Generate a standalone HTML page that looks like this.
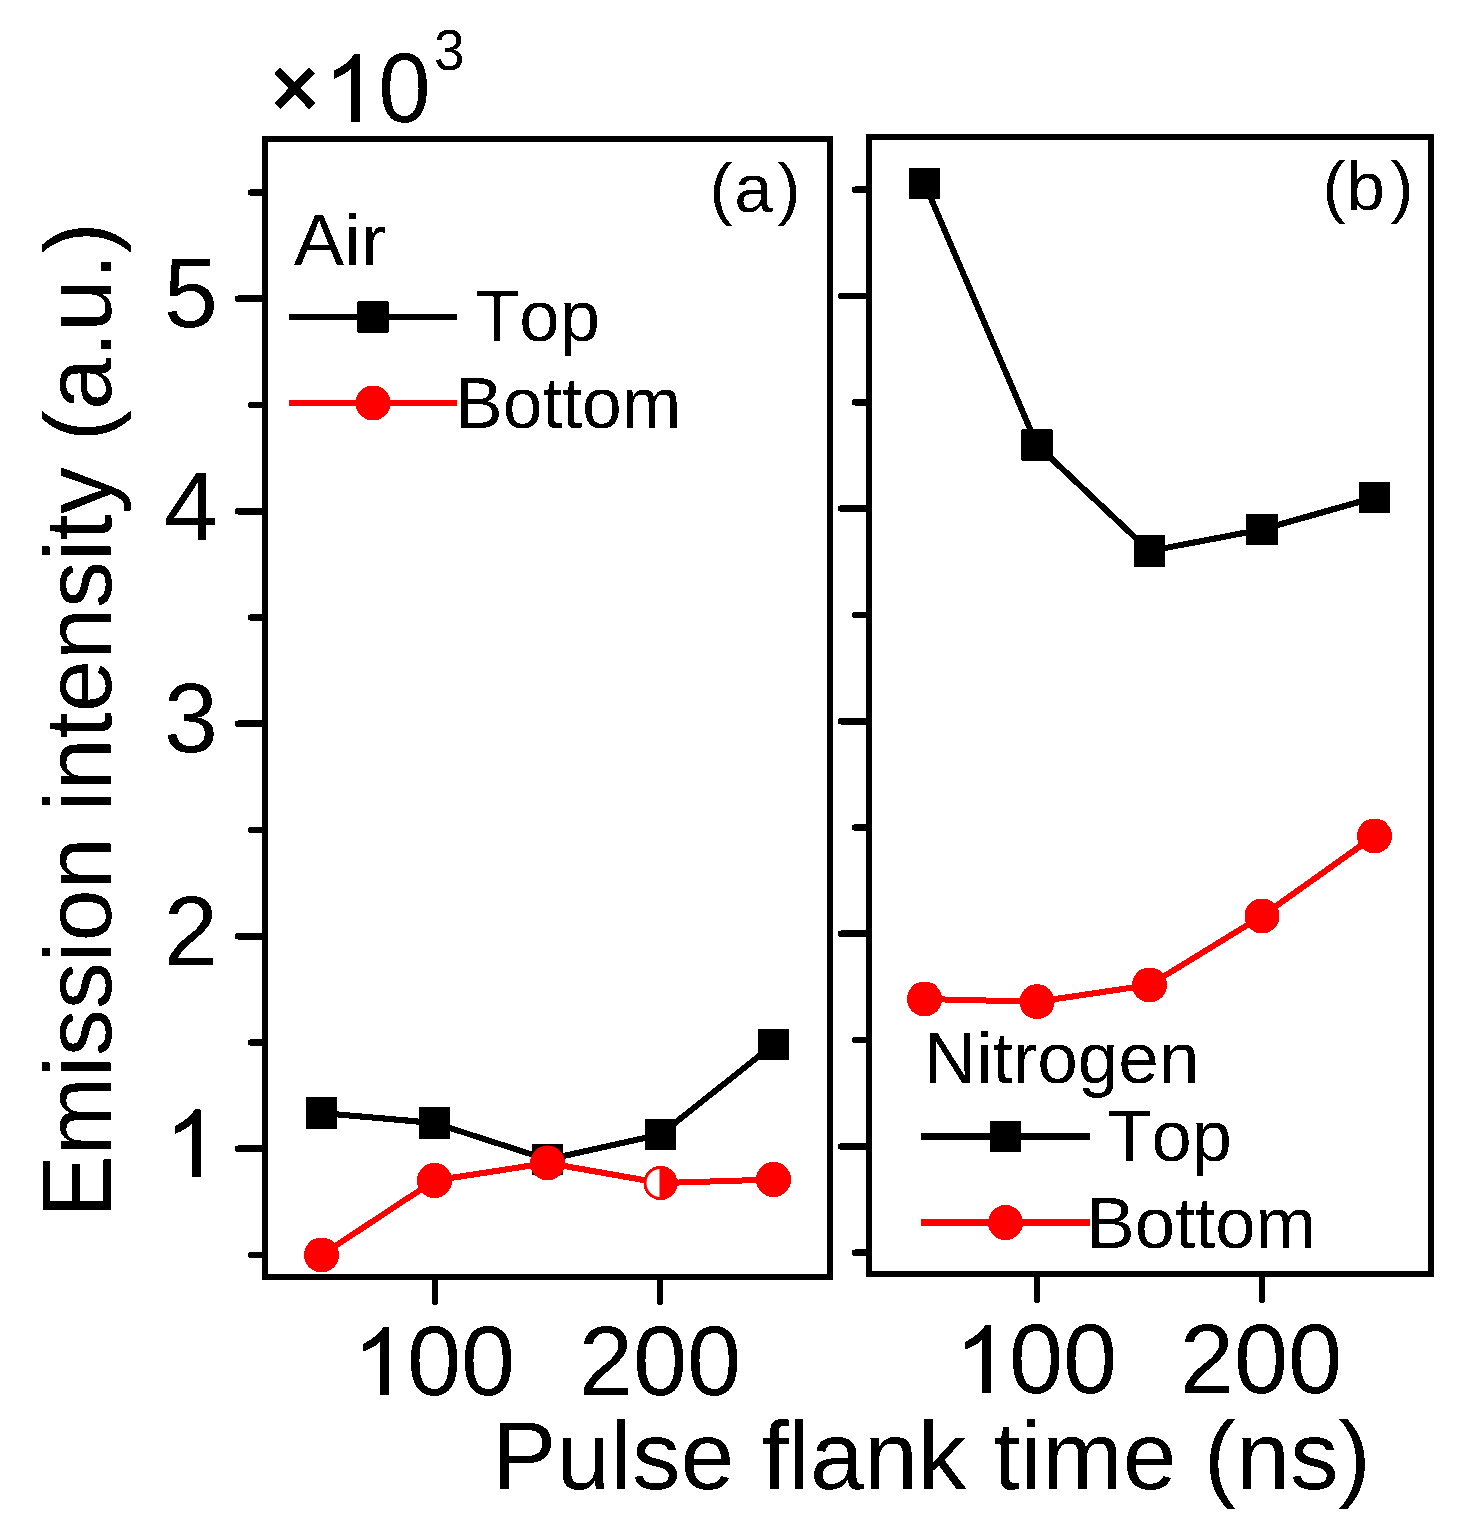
<!DOCTYPE html>
<html><head><meta charset="utf-8"><style>html,body{margin:0;padding:0;background:#fff}svg{display:block}</style></head>
<body><svg width="1482" height="1538" viewBox="0 0 1482 1538">
<defs><filter id="bin" x="0" y="0" width="1482" height="1538" filterUnits="userSpaceOnUse" color-interpolation-filters="sRGB"><feComponentTransfer><feFuncA type="discrete" tableValues="0 1"/></feComponentTransfer></filter></defs>
<rect width="1482" height="1538" fill="#fff"/>
<g filter="url(#bin)">
<g fill="none" stroke="#000" stroke-width="6" stroke-linejoin="miter">
<rect x="265" y="139" width="565" height="1138"/>
<rect x="869" y="137" width="562" height="1137"/>
</g>
<g stroke="#000" stroke-width="6.5" stroke-linecap="round">
<line x1="251" y1="1255.00" x2="264" y2="1255.00"/>
<line x1="855" y1="1252.70" x2="868" y2="1252.70"/>
<line x1="238" y1="1148.75" x2="264" y2="1148.75"/>
<line x1="841" y1="1146.40" x2="868" y2="1146.40"/>
<line x1="251" y1="1042.50" x2="264" y2="1042.50"/>
<line x1="855" y1="1040.10" x2="868" y2="1040.10"/>
<line x1="238" y1="936.25" x2="264" y2="936.25"/>
<line x1="841" y1="933.80" x2="868" y2="933.80"/>
<line x1="251" y1="830.00" x2="264" y2="830.00"/>
<line x1="855" y1="827.50" x2="868" y2="827.50"/>
<line x1="238" y1="723.75" x2="264" y2="723.75"/>
<line x1="841" y1="721.20" x2="868" y2="721.20"/>
<line x1="251" y1="617.50" x2="264" y2="617.50"/>
<line x1="855" y1="614.90" x2="868" y2="614.90"/>
<line x1="238" y1="511.25" x2="264" y2="511.25"/>
<line x1="841" y1="508.60" x2="868" y2="508.60"/>
<line x1="251" y1="405.00" x2="264" y2="405.00"/>
<line x1="855" y1="402.30" x2="868" y2="402.30"/>
<line x1="238" y1="298.75" x2="264" y2="298.75"/>
<line x1="841" y1="296.00" x2="868" y2="296.00"/>
<line x1="251" y1="192.50" x2="264" y2="192.50"/>
<line x1="855" y1="189.70" x2="868" y2="189.70"/>
<line x1="435" y1="1278" x2="435" y2="1302"/>
<line x1="660" y1="1278" x2="660" y2="1302"/>
<line x1="1037" y1="1275" x2="1037" y2="1300"/>
<line x1="1262" y1="1275" x2="1262" y2="1300"/>
</g>
<polyline points="321.5,1113 434.5,1123 547.5,1159.5 660.5,1134.5 773.5,1044.5" fill="none" stroke="#000" stroke-width="6" stroke-linejoin="round"/>
<rect x="306.0" y="1097.5" width="31" height="31" fill="#000"/>
<rect x="419.0" y="1107.5" width="31" height="31" fill="#000"/>
<rect x="532.0" y="1144.0" width="31" height="31" fill="#000"/>
<rect x="645.0" y="1119.0" width="31" height="31" fill="#000"/>
<rect x="758.0" y="1029.0" width="31" height="31" fill="#000"/>
<polyline points="321.5,1255 434.5,1180.5 547.5,1163 660.5,1183 773.5,1179.5" fill="none" stroke="#f00" stroke-width="6" stroke-linejoin="round"/>
<circle cx="321.5" cy="1255" r="17.5" fill="#f00"/>
<circle cx="434.5" cy="1180.5" r="17.5" fill="#f00"/>
<circle cx="547.5" cy="1163" r="17.5" fill="#f00"/>
<circle cx="660.5" cy="1183" r="15.5" fill="#fff" stroke="#f00" stroke-width="3"/>
<path d="M659.5 1166A17 17 0 0 1 659.5 1200Z" fill="#f00"/>
<circle cx="773.5" cy="1179.5" r="17.5" fill="#f00"/>
<polyline points="924.5,183.5 1037.0,445 1149.5,551 1262.0,529.5 1374.5,497.5" fill="none" stroke="#000" stroke-width="6" stroke-linejoin="round"/>
<rect x="909.0" y="168.0" width="31" height="31" fill="#000"/>
<rect x="1021.5" y="429.5" width="31" height="31" fill="#000"/>
<rect x="1134.0" y="535.5" width="31" height="31" fill="#000"/>
<rect x="1246.5" y="514.0" width="31" height="31" fill="#000"/>
<rect x="1359.0" y="482.0" width="31" height="31" fill="#000"/>
<polyline points="924.5,999 1037.0,1001.7 1149.5,985 1262.0,916 1374.5,836" fill="none" stroke="#f00" stroke-width="6" stroke-linejoin="round"/>
<circle cx="924.5" cy="999" r="17.5" fill="#f00"/>
<circle cx="1037.0" cy="1001.7" r="17.5" fill="#f00"/>
<circle cx="1149.5" cy="985" r="17.5" fill="#f00"/>
<circle cx="1262.0" cy="916" r="17.5" fill="#f00"/>
<circle cx="1374.5" cy="836" r="17.5" fill="#f00"/>
<line x1="289" y1="317" x2="457" y2="317" stroke="#000" stroke-width="6" stroke-linecap="butt"/>
<rect x="357.5" y="301.5" width="31" height="31" fill="#000"/>
<line x1="289" y1="403" x2="457" y2="403" stroke="#f00" stroke-width="6" stroke-linecap="butt"/>
<circle cx="373.0" cy="403" r="17.5" fill="#f00"/>
<line x1="921" y1="1136.5" x2="1090" y2="1136.5" stroke="#000" stroke-width="6" stroke-linecap="butt"/>
<rect x="990.0" y="1121.0" width="31" height="31" fill="#000"/>
<line x1="921" y1="1222.6" x2="1090" y2="1222.6" stroke="#f00" stroke-width="6" stroke-linecap="butt"/>
<circle cx="1005.5" cy="1222.6" r="17.5" fill="#f00"/>
<g style="font-family:'Liberation Sans',sans-serif;font-kerning:none;font-feature-settings:'kern' 0">
<text transform="translate(293.85,265.00) scale(1.0501,1.0000)" font-size="72" fill="#000">Air</text>
<text transform="translate(475.07,341.20) scale(1.0073,1.0000)" font-size="72" fill="#000">Top</text>
<text transform="translate(454.99,427.90) scale(0.9927,1.0000)" font-size="72" fill="#000">Bottom</text>
<text transform="translate(923.71,1083.00) scale(1.0135,1.0000)" font-size="72" fill="#000">Nitrogen</text>
<text transform="translate(1107.38,1161.00) scale(1.0048,1.0000)" font-size="72" fill="#000">Top</text>
<text transform="translate(1086.46,1248.00) scale(1.0053,1.0000)" font-size="72" fill="#000">Bottom</text>
<text x="709.52" y="212" font-size="69">(</text>
<text x="734.17" y="212" font-size="69">a</text>
<text x="777.50" y="212" font-size="69">)</text>
<text x="1322.52" y="210" font-size="69">(</text>
<text x="1346.45" y="210" font-size="69">b</text>
<text x="1390.60" y="210" font-size="69">)</text>
<text x="218" y="327.25" font-size="97.5" text-anchor="end">5</text>
<text x="218" y="539.75" font-size="97.5" text-anchor="end">4</text>
<text x="218" y="752.25" font-size="97.5" text-anchor="end">3</text>
<text x="218" y="964.75" font-size="97.5" text-anchor="end">2</text>
<path transform="translate(164.28,1177.25) scale(0.04761,-0.04638)" d="M763 0L583 0L583 1147Q518 1085 412 1023Q306 961 223 930L223 1104Q374 1175 487 1276Q600 1377 647 1466L763 1466Z"/>
<path transform="translate(352.66,1395.00) scale(0.04761,-0.04638)" d="M763 0L583 0L583 1147Q518 1085 412 1023Q306 961 223 930L223 1104Q374 1175 487 1276Q600 1377 647 1466L763 1466Z"/>
<text x="406.89" y="1395" font-size="97.5">00</text>
<text x="660" y="1395" font-size="97.5" text-anchor="middle">200</text>
<path transform="translate(954.66,1393.00) scale(0.04761,-0.04638)" d="M763 0L583 0L583 1147Q518 1085 412 1023Q306 961 223 930L223 1104Q374 1175 487 1276Q600 1377 647 1466L763 1466Z"/>
<text x="1008.89" y="1393" font-size="97.5">00</text>
<text x="1261" y="1393" font-size="97.5" text-anchor="middle">200</text>
<text transform="translate(491.64,1489.00) scale(1.0008,1.0000)" font-size="97" fill="#000">Pulse flank time (ns)</text>
<g transform="translate(110.8,1210.00) rotate(-90)"><text transform="translate(-7.69,0) scale(0.9998,1.05)" font-size="93.8">E</text><text transform="translate(54.86,0) scale(0.9998,1.0)" font-size="93.8">mission intensity (a.u.)</text></g>
<g stroke="#000" stroke-width="8.5" stroke-linecap="butt"><line x1="277.2" y1="70.8" x2="312" y2="105.9"/><line x1="312" y1="70.8" x2="277.2" y2="105.9"/></g>
<path transform="translate(323.38,122.00) scale(0.04761,-0.04638)" d="M763 0L583 0L583 1147Q518 1085 412 1023Q306 961 223 930L223 1104Q374 1175 487 1276Q600 1377 647 1466L763 1466Z"/>
<text transform="translate(378.32,122.00) scale(0.9655,1.0000)" font-size="97.5" fill="#000">0</text>
<text transform="translate(433.91,69.80) scale(0.9455,1.0000)" font-size="58" fill="#000">3</text>
</g>
</g>
</svg></body></html>
